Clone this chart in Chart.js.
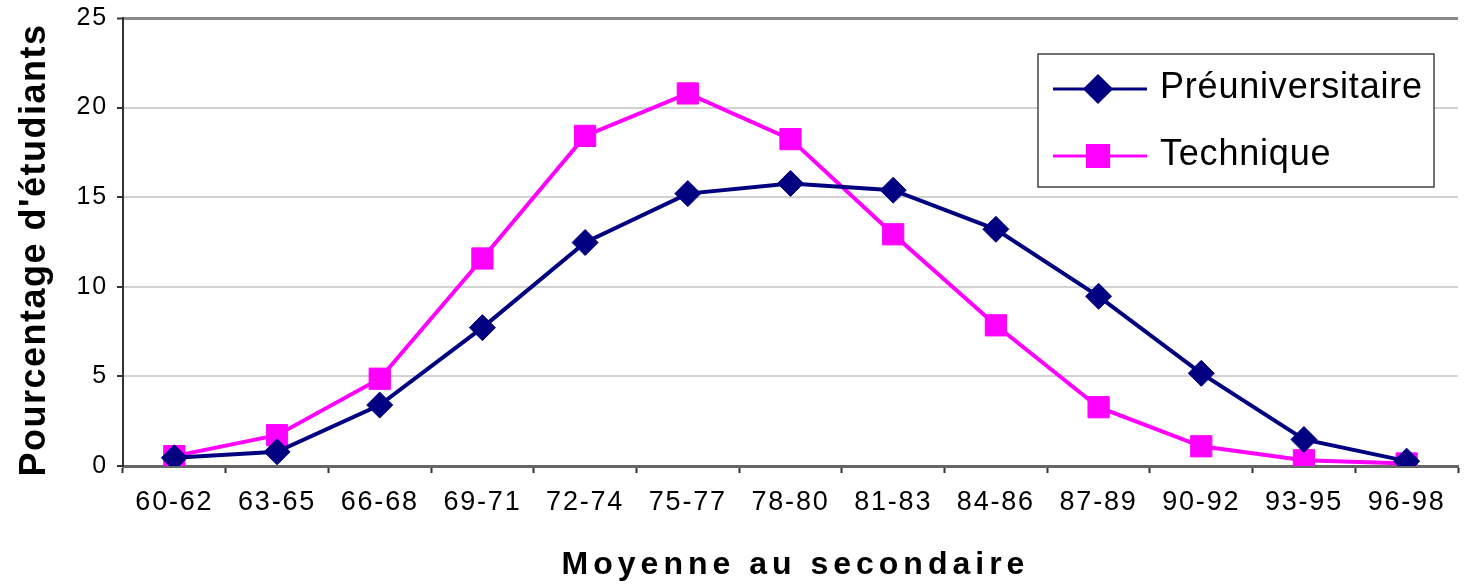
<!DOCTYPE html>
<html lang="fr">
<head>
<meta charset="utf-8">
<title>Moyenne au secondaire</title>
<script src="https://cdn.jsdelivr.net/npm/chart.js@4/dist/chart.umd.min.js"></script>
<style>
  html, body { margin: 0; padding: 0; background: #fff; }
  #wrap { width: 1474px; height: 586px; position: relative; }
</style>
</head>
<body>
<div id="wrap"><canvas id="chart"></canvas></div>
<script>
(function () {
  'use strict';

  // --- Data ---
  const categories = ['60-62', '63-65', '66-68', '69-71', '72-74', '75-77', '78-80',
                      '81-83', '84-86', '87-89', '90-92', '93-95', '96-98'];
  const preuniversitaire = [0.46, 0.79, 3.4, 7.72, 12.47, 15.2, 15.77, 15.39, 13.21, 9.47, 5.17, 1.48, 0.27];
  const technique = [0.55, 1.72, 4.87, 11.58, 18.42, 20.79, 18.24, 12.93, 7.85, 3.28, 1.1, 0.32, 0.14];
  const yTicks = [0, 5, 10, 15, 20, 25];

  const NAVY = '#000080';
  const MAGENTA = '#FF00FF';
  const FONT = 'Arial, "Liberation Sans", sans-serif';

  // --- Axis titles and in-plot legend (letter-spaced like the original) ---
  const decorations = {
    id: 'decorations',
    beforeDraw(chart) {
      chart.ctx.letterSpacing = '1.8px';
    },
    afterDraw(chart) {
      const ctx = chart.ctx;
      const area = chart.chartArea;
      ctx.save();

      // y title
      ctx.font = 'bold 36px ' + FONT;
      ctx.letterSpacing = '1.5px';
      ctx.fillStyle = '#000';
      ctx.textAlign = 'center';
      ctx.textBaseline = 'alphabetic';
      ctx.save();
      ctx.translate(45, 250);
      ctx.rotate(-Math.PI / 2);
      ctx.fillText("Pourcentage d'étudiants", 0, 0);
      ctx.restore();

      // x title
      ctx.font = 'bold 32px ' + FONT;
      ctx.letterSpacing = '5px';
      ctx.fillText('Moyenne au secondaire', (area.left + area.right) / 2 + 5, 574);

      // legend box
      const box = { x: 1038, y: 54, w: 396, h: 133 };
      ctx.letterSpacing = '0.8px';
      ctx.fillStyle = '#fff';
      ctx.fillRect(box.x, box.y, box.w, box.h);
      ctx.strokeStyle = '#444';
      ctx.lineWidth = 1.5;
      ctx.strokeRect(box.x, box.y, box.w, box.h);

      const rows = [89, 156];
      chart.data.datasets.forEach((ds, i) => {
        const y = rows[i];
        ctx.strokeStyle = ds.borderColor;
        ctx.lineWidth = 3;
        ctx.beginPath();
        ctx.moveTo(1053, y);
        ctx.lineTo(1147, y);
        ctx.stroke();
        Chart.helpers.drawPoint(ctx, {
          pointStyle: ds.pointStyle,
          radius: ds.pointRadius,
          borderWidth: 1
        }, 1098, y);
        ctx.fillStyle = ds.pointBackgroundColor;
        ctx.fill();
        ctx.fillStyle = '#000';
        ctx.font = '36px ' + FONT;
        ctx.textAlign = 'left';
        ctx.textBaseline = 'alphabetic';
        ctx.fillText(ds.label, 1160, y + 9);
      });

      ctx.restore();
    }
  };

  const ctx = document.getElementById('chart').getContext('2d');
  new Chart(ctx, {
    type: 'line',
    data: {
      labels: categories,
      datasets: [{
        label: 'Préuniversitaire',
        data: preuniversitaire,
        borderColor: NAVY,
        backgroundColor: NAVY,
        pointBackgroundColor: NAVY,
        pointBorderColor: NAVY,
        borderWidth: 4,
        pointStyle: 'rectRot',
        pointRadius: 13,
        pointBorderWidth: 1,
        tension: 0,
      }, {
        label: 'Technique',
        data: technique,
        borderColor: MAGENTA,
        backgroundColor: MAGENTA,
        pointBackgroundColor: MAGENTA,
        pointBorderColor: MAGENTA,
        borderWidth: 4,
        pointStyle: 'rect',
        pointRadius: 15,
        pointBorderWidth: 1,
        tension: 0,
      }],
    },
    options: {
      responsive: true,
      maintainAspectRatio: false,
      animation: false,
      devicePixelRatio: 1,
      layout: { padding: { top: 18, right: 0, left: 0, bottom: 0 } },
      plugins: {
        legend: { display: false },
        tooltip: { enabled: false },
      },
      scales: {
        x: {
          offset: true,
          grid: {
            offset: true,
            drawOnChartArea: false,
            drawTicks: true,
            tickLength: 7,
            tickColor: '#333',
            tickWidth: 2,
          },
          border: { color: '#666', width: 3 },
          ticks: {
            color: '#000',
            padding: 13,
            maxRotation: 0,
            autoSkip: false,
            font: { family: FONT, size: 27 },
          },
          afterFit(scale) {
            scale.height = 120;
            scale.paddingLeft = 0;
            scale.paddingRight = 0;
          },
        },
        y: {
          min: 0,
          max: 25,
          afterBuildTicks(scale) {
            scale.ticks = yTicks.map(v => ({ value: v }));
          },
          grid: {
            color: c => c.tick.value === 25 ? '#8a8a8a' : (c.tick.value === 0 ? '#666' : '#d2d2d2'),
            lineWidth: c => c.tick.value === 25 ? 3 : 2,
            drawTicks: true,
            tickLength: 6,
            tickColor: '#333',
            tickWidth: 2,
          },
          border: { color: '#333', width: 2 },
          ticks: {
            color: '#000',
            padding: 9,
            font: { family: FONT, size: 25 },
          },
          afterFit(scale) {
            scale.width = 123;
            scale.paddingTop = 0;
            scale.paddingBottom = 0;
          },
        },
      },
    },
    plugins: [decorations],
  });
})();
</script>
</body>
</html>
